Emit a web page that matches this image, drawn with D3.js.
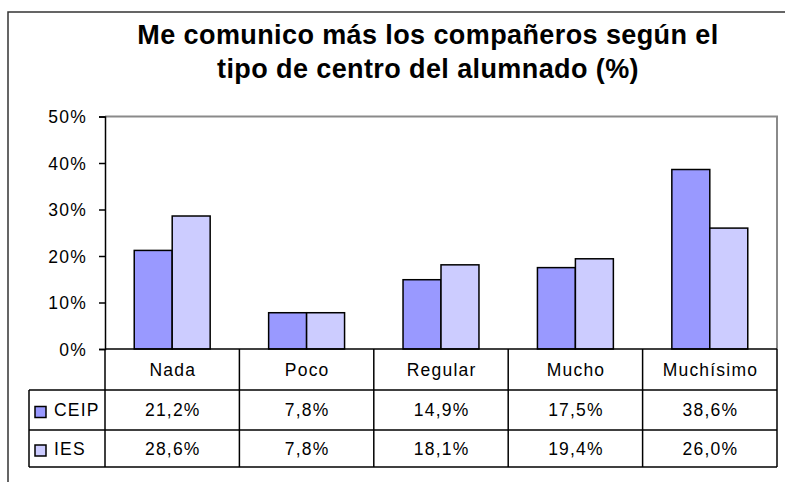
<!DOCTYPE html>
<html>
<head>
<meta charset="utf-8">
<script src="https://cdn.jsdelivr.net/npm/d3@7"></script>
<style>
  html, body { margin: 0; padding: 0; background: #fff; }
  svg { display: block; }
  text { font-family: "Liberation Sans", Arial, sans-serif; fill: #000; }
</style>
</head>
<body>
<svg id="chart" width="785" height="482"></svg>
<script>
const titleLines = ["Me comunico más los compañeros según el", "tipo de centro del alumnado (%)"];
const categories = ["Nada", "Poco", "Regular", "Mucho", "Muchísimo"];
const seriesNames = ["CEIP", "IES"];
const ceipValues = [21.2, 7.8, 14.9, 17.5, 38.6];
const iesValues = [28.6, 7.8, 18.1, 19.4, 26.0];
const yTicks = [0, 10, 20, 30, 40, 50];
const seriesColors = ["#9999FF", "#CCCCFF"];

const fmt = v => v.toFixed(1).replace(".", ",") + "%";
const seriesValues = [ceipValues, iesValues];

const svg = d3.select("#chart");

// outer chart border
svg.append("rect")
  .attr("x", 8).attr("y", 12).attr("width", 800).attr("height", 500)
  .attr("fill", "none").attr("stroke", "#333").attr("stroke-width", 1.5);

// title
svg.append("g").selectAll("text").data(titleLines).join("text")
  .attr("x", 428).attr("y", (d, i) => 44 + i * 34)
  .attr("text-anchor", "middle")
  .style("font-size", "27px").style("font-weight", "bold")
  .style("letter-spacing", "0.4px")
  .text(d => d);

const plot = { left: 105, right: 777, top: 116.5, bottom: 349 };

const x0 = d3.scaleBand().domain(categories).range([plot.left, plot.right]).paddingInner(0).paddingOuter(0);
const x1 = d3.scaleBand().domain(seriesNames).range([0, x0.bandwidth()]).paddingInner(0).paddingOuter(0.77);
const y = d3.scaleLinear().domain([0, 50]).range([plot.bottom, plot.top]);

// plot area border (gray top & right)
svg.append("path")
  .attr("d", `M${plot.left},${plot.top}H${plot.right}V${plot.bottom}`)
  .attr("fill", "none").attr("stroke", "#8a8a8a").attr("stroke-width", 2);

// bars
const groups = svg.append("g").selectAll("g").data(categories).join("g")
  .attr("transform", d => `translate(${x0(d)},0)`);
groups.selectAll("rect")
  .data((c, ci) => seriesNames.map((s, si) => ({ s, si, v: seriesValues[si][ci] })))
  .join("rect")
  .attr("x", d => x1(d.s))
  .attr("width", x1.bandwidth())
  .attr("y", d => y(d.v))
  .attr("height", d => y(0) - y(d.v))
  .attr("fill", d => seriesColors[d.si])
  .attr("stroke", "#000").attr("stroke-width", 1.5);

// y axis
const yAxis = d3.axisLeft(y).tickValues(yTicks).tickFormat(d => d + "%").tickSize(6).tickPadding(12);
const yg = svg.append("g").attr("transform", `translate(${plot.left},0)`).call(yAxis);
yg.select(".domain").attr("stroke", "#000").attr("stroke-width", 1.5);
yg.selectAll(".tick line").attr("stroke", "#000").attr("stroke-width", 1.5);
yg.selectAll(".tick text")
  .style("font-size", "17.5px").style("letter-spacing", "1.2px")
  .attr("fill", "#000").attr("dy", "0.36em");

// data table
const rowTops = [349, 390, 430, 467];
const legendLeft = 29;
const tbl = svg.append("g").attr("stroke", "#000").attr("stroke-width", 1.5);
// horizontal lines
tbl.append("line").attr("x1", plot.left).attr("x2", plot.right).attr("y1", rowTops[0]).attr("y2", rowTops[0]);
rowTops.slice(1).forEach(yy => {
  tbl.append("line").attr("x1", legendLeft).attr("x2", plot.right).attr("y1", yy).attr("y2", yy);
});
// vertical lines
const colEdges = categories.map(c => x0(c)).concat([plot.right]);
colEdges.forEach(xx => {
  tbl.append("line").attr("x1", xx).attr("x2", xx).attr("y1", rowTops[0]).attr("y2", rowTops[3]);
});
tbl.append("line").attr("x1", legendLeft).attr("x2", legendLeft).attr("y1", rowTops[1]).attr("y2", rowTops[3]);

const textStyle = sel => sel.style("font-size", "17.5px").style("letter-spacing", "1.2px");

// category labels
svg.append("g").selectAll("text").data(categories).join("text")
  .attr("x", d => x0(d) + x0.bandwidth() / 2 + 0.6)
  .attr("y", (rowTops[0] + rowTops[1]) / 2)
  .attr("dy", "0.36em")
  .attr("text-anchor", "middle")
  .call(textStyle)
  .text(d => d);

// value rows
seriesNames.forEach((s, si) => {
  const cy = (rowTops[si + 1] + rowTops[si + 2]) / 2;
  svg.append("g").selectAll("text").data(seriesValues[si]).join("text")
    .attr("x", (d, i) => x0(categories[i]) + x0.bandwidth() / 2 + 0.6)
    .attr("y", cy)
    .attr("dy", "0.36em")
    .attr("text-anchor", "middle")
    .call(textStyle)
    .text(d => fmt(d));
  // legend key
  svg.append("rect")
    .attr("x", 35).attr("y", cy - 3.5).attr("width", 11).attr("height", 11)
    .attr("fill", seriesColors[si]).attr("stroke", "#000").attr("stroke-width", 1.5);
  svg.append("text")
    .attr("x", 54).attr("y", cy).attr("dy", "0.36em")
    .call(textStyle)
    .text(s);
});
</script>
</body>
</html>
